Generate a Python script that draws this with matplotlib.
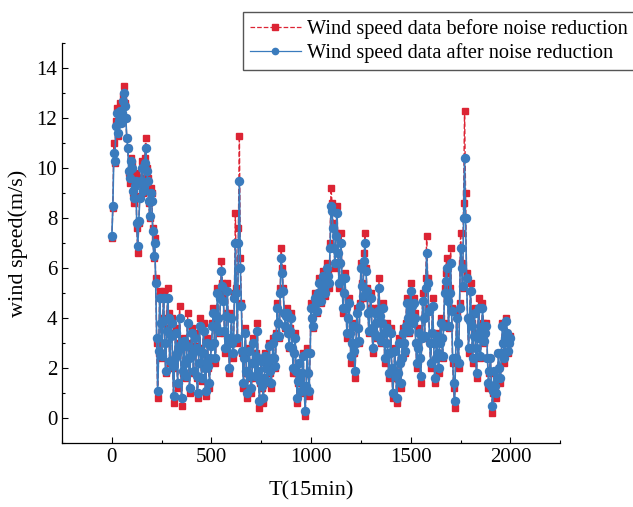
import numpy as np
import matplotlib.pyplot as plt
from matplotlib.ticker import MultipleLocator

plt.rcParams['font.family'] = ['Liberation Serif', 'DejaVu Serif']

# time index (15 min steps), sampled every 5
t = np.arange(0, 2001, 5)

# wind speed before noise reduction (m/s), one row per 100 steps
raw = [
    7.2, 8.4, 11.0, 10.2, 11.9, 12.4, 11.3, 12.0, 12.6, 11.8, 12.2, 12.9, 13.3, 12.6, 12.0, 11.2, 10.8, 9.8, 9.4, 10.4,
    10.2, 9.0, 8.6, 9.4, 9.8, 7.6, 6.6, 7.8, 8.9, 9.6, 10.3, 9.0, 9.2, 10.4, 11.2, 10.0, 9.6, 8.6, 8.0, 9.2,
    9.0, 7.6, 6.4, 7.2, 5.6, 3.0, 0.8, 2.6, 5.1, 3.8, 2.4, 4.0, 5.1, 3.0, 1.8, 3.6, 5.2, 4.2, 2.2, 3.4,
    4.0, 2.0, 0.6, 2.4, 3.6, 2.6, 1.2, 3.0, 4.5, 2.8, 0.5, 1.8, 3.2, 2.2, 1.6, 3.0, 4.2, 2.4, 1.0, 2.6,
    3.6, 2.6, 1.8, 3.4, 2.9, 1.6, 0.8, 2.2, 4.0, 2.8, 1.5, 2.6, 3.8, 2.0, 0.9, 2.4, 3.2, 2.0, 1.2, 2.4,
    3.0, 3.8, 4.4, 3.0, 2.2, 3.8, 5.2, 4.0, 3.4, 5.0, 6.3, 5.4, 4.8, 3.4, 2.6, 4.2, 5.4, 3.2, 1.8, 3.0,
    4.2, 3.0, 2.4, 5.0, 8.2, 5.2, 3.0, 7.6, 11.3, 6.4, 4.6, 2.6, 1.2, 2.4, 3.6, 1.8, 0.8, 1.8, 2.8, 1.6,
    1.0, 2.2, 3.2, 2.2, 1.6, 2.6, 3.8, 1.8, 0.4, 1.4, 2.4, 1.2, 0.6, 1.6, 2.6, 2.0, 1.4, 2.4, 3.0, 1.8,
    1.2, 2.4, 3.2, 2.4, 2.0, 3.4, 4.6, 3.8, 3.2, 5.2, 6.8, 6.0, 5.2, 4.2, 3.6, 4.2, 4.4, 3.4, 2.8, 3.6,
    4.2, 2.8, 1.8, 2.6, 3.4, 1.8, 0.6, 1.4, 2.2, 1.6, 1.0, 1.8, 2.6, 1.2, 0.1, 1.2, 2.8, 1.8, 0.9, 2.6,
    4.6, 4.0, 3.6, 4.4, 5.0, 4.6, 4.2, 5.0, 5.6, 5.0, 4.6, 5.4, 5.9, 5.2, 4.9, 5.6, 6.2, 5.8, 5.2, 7.0,
    9.2, 8.6, 7.8, 6.8, 6.0, 7.4, 8.5, 6.6, 5.2, 6.2, 7.4, 5.6, 4.2, 5.0, 5.8, 4.4, 3.2, 4.0, 4.8, 3.4,
    2.2, 3.0, 3.8, 2.6, 1.6, 3.0, 4.4, 3.6, 3.0, 4.6, 6.2, 5.4, 4.8, 6.6, 7.4, 6.0, 5.2, 4.2, 3.4, 4.4,
    5.0, 3.6, 2.6, 3.4, 4.4, 3.8, 3.2, 4.4, 5.6, 4.2, 3.0, 3.8, 4.6, 3.4, 2.2, 3.0, 3.8, 2.6, 1.6, 2.6,
    3.6, 2.0, 0.8, 1.8, 2.8, 1.6, 0.6, 1.8, 3.2, 2.2, 1.2, 2.4, 3.6, 3.0, 2.6, 3.8, 4.8, 4.0, 3.4, 4.4,
    5.4, 4.6, 3.8, 4.8, 4.2, 3.0, 2.0, 2.8, 3.6, 2.4, 1.4, 3.2, 5.0, 4.0, 3.2, 5.6, 7.3, 5.6, 4.4, 3.0,
    2.0, 3.4, 4.8, 3.0, 1.4, 2.4, 3.4, 2.6, 1.8, 3.0, 4.0, 3.2, 2.4, 3.8, 5.2, 5.8, 6.4, 4.8, 3.6, 5.2,
    6.8, 4.4, 2.2, 1.2, 0.4, 2.4, 4.2, 3.0, 2.0, 4.6, 7.4, 6.2, 5.2, 8.6, 12.3, 9.0, 5.8, 4.0, 2.6, 4.0,
    5.4, 3.8, 2.2, 3.4, 4.4, 2.8, 1.6, 3.2, 4.8, 3.6, 2.4, 3.4, 4.6, 3.8, 3.0, 3.4, 3.8, 2.4, 1.2, 1.8,
    2.4, 1.2, 0.2, 1.0, 1.8, 1.2, 0.8, 1.6, 2.6, 2.0, 1.4, 2.6, 3.8, 3.0, 2.2, 3.2, 4.0, 3.4, 2.6, 3.0,
    3.3,
]

# wind speed after noise reduction (m/s)
denoised = [
    7.3, 8.5, 10.6, 10.3, 11.7, 12.2, 11.4, 11.9, 12.3, 11.8, 12.2, 12.7, 13.0, 12.5, 12.0, 11.2, 10.8, 9.9, 9.6, 10.3,
    10.0, 9.1, 8.8, 9.3, 9.5, 7.8, 6.9, 7.9, 8.8, 9.5, 10.0, 9.1, 9.3, 10.2, 10.8, 9.9, 9.5, 8.7, 8.1, 9.0,
    8.7, 7.5, 6.5, 7.0, 5.4, 3.2, 1.1, 2.7, 4.8, 3.8, 2.5, 3.9, 4.8, 3.0, 1.9, 3.5, 4.8, 4.0, 2.3, 3.3,
    3.8, 2.1, 0.9, 2.4, 3.4, 2.6, 1.4, 2.9, 4.0, 2.8, 0.8, 1.9, 3.1, 2.2, 1.7, 2.9, 3.8, 2.4, 1.2, 2.5,
    3.4, 2.6, 1.9, 3.2, 2.8, 1.7, 1.0, 2.2, 3.7, 2.7, 1.6, 2.6, 3.5, 2.0, 1.1, 2.3, 3.0, 2.1, 1.4, 2.4,
    2.9, 3.7, 4.2, 3.0, 2.4, 3.7, 5.0, 4.0, 3.5, 4.8, 5.9, 5.3, 4.7, 3.5, 2.8, 4.1, 5.1, 3.2, 2.0, 3.0,
    4.0, 3.0, 2.6, 4.8, 7.0, 5.0, 3.2, 7.0, 9.5, 6.0, 4.5, 2.7, 1.4, 2.4, 3.4, 1.9, 1.0, 1.8, 2.7, 1.7,
    1.2, 2.2, 3.0, 2.2, 1.7, 2.5, 3.5, 1.9, 0.7, 1.5, 2.3, 1.3, 0.8, 1.6, 2.5, 2.0, 1.5, 2.3, 2.9, 1.9,
    1.4, 2.4, 3.0, 2.4, 2.1, 3.3, 4.4, 3.8, 3.3, 5.0, 6.4, 5.8, 5.1, 4.2, 3.7, 4.1, 4.2, 3.4, 2.9, 3.5,
    4.0, 2.8, 2.0, 2.6, 3.2, 1.9, 0.8, 1.5, 2.2, 1.6, 1.1, 1.8, 2.5, 1.3, 0.3, 1.3, 2.6, 1.8, 1.1, 2.6,
    4.4, 4.0, 3.7, 4.4, 4.8, 4.6, 4.3, 5.0, 5.4, 5.0, 4.7, 5.3, 5.7, 5.2, 5.0, 5.5, 6.0, 5.7, 5.4, 6.8,
    8.5, 8.3, 7.6, 6.8, 6.2, 7.3, 8.2, 6.6, 5.4, 6.2, 7.0, 5.6, 4.4, 5.0, 5.6, 4.4, 3.4, 4.0, 4.6, 3.4,
    2.5, 3.0, 3.7, 2.7, 1.9, 3.0, 4.2, 3.6, 3.1, 4.5, 6.0, 5.3, 4.9, 6.3, 7.0, 5.9, 5.1, 4.2, 3.5, 4.3,
    4.8, 3.6, 2.8, 3.4, 4.2, 3.8, 3.3, 4.3, 5.2, 4.1, 3.1, 3.8, 4.4, 3.4, 2.4, 3.0, 3.6, 2.6, 1.8, 2.6,
    3.4, 2.0, 1.0, 1.8, 2.7, 1.7, 0.8, 1.8, 3.0, 2.2, 1.4, 2.4, 3.4, 3.0, 2.7, 3.7, 4.6, 4.0, 3.5, 4.3,
    5.1, 4.5, 3.8, 4.6, 4.0, 3.0, 2.2, 2.8, 3.4, 2.4, 1.7, 3.2, 4.7, 4.0, 3.3, 5.2, 6.6, 5.4, 4.3, 3.0,
    2.2, 3.4, 4.5, 3.0, 1.6, 2.4, 3.3, 2.6, 2.0, 3.0, 3.8, 3.2, 2.5, 3.7, 5.0, 5.5, 6.0, 4.7, 3.7, 5.0,
    6.2, 4.3, 2.4, 1.4, 0.7, 2.4, 4.0, 3.0, 2.2, 4.4, 6.8, 6.0, 5.3, 8.0, 10.4, 8.0, 5.6, 4.0, 2.8, 3.9,
    5.1, 3.7, 2.4, 3.3, 4.2, 2.8, 1.8, 3.2, 4.4, 3.5, 2.5, 3.4, 4.4, 3.7, 3.1, 3.4, 3.7, 2.4, 1.4, 1.9,
    2.4, 1.3, 0.5, 1.1, 1.9, 1.3, 1.0, 1.6, 2.6, 2.0, 1.6, 2.6, 3.7, 3.0, 2.4, 3.2, 3.9, 3.4, 2.7, 3.0,
    3.2,
]

red = '#dc2434'
blue = '#3a7bbd'

fig = plt.figure(figsize=(6.33, 5.07), dpi=100)
ax = fig.add_axes([0.098, 0.126, 0.787, 0.789])

ax.plot(t, raw, color=red, ls='--', lw=1.0, marker='s', ms=4.6, mec=red, mfc=red,
        label='Wind speed data before noise reduction')
ax.plot(t, denoised, color=blue, ls='-', lw=1.2, marker='o', ms=5.8, mec=blue, mfc=blue,
        label='Wind speed data after noise reduction')

ax.set_xlim(-250, 2250)
ax.set_ylim(-1, 15)
ax.xaxis.set_major_locator(MultipleLocator(500))
ax.xaxis.set_minor_locator(MultipleLocator(250))
ax.yaxis.set_major_locator(MultipleLocator(2))
ax.yaxis.set_minor_locator(MultipleLocator(1))
ax.tick_params(which='both', direction='in', labelsize=15, width=0.8)
ax.tick_params(which='major', length=4.5)
ax.tick_params(which='minor', length=2.5)
ax.spines['top'].set_visible(False)
ax.spines['right'].set_visible(False)
for s in ['left', 'bottom']:
    ax.spines[s].set_linewidth(0.9)

ax.set_xlabel('T(15min)', fontsize=16, labelpad=10)
ax.set_ylabel('wind speed(m/s)', fontsize=16, labelpad=6)

leg = fig.legend(loc='upper left', bbox_to_anchor=(243 / 633, 1 - 12 / 507), fontsize=14.6,
                 frameon=True, fancybox=False, edgecolor='#555555', framealpha=1,
                 handlelength=2.5, handletextpad=0.3, borderpad=0.35, labelspacing=0.2,
                 borderaxespad=0)
for h in leg.legend_handles:
    h.set_markersize(4.5)
    h.set_linewidth(0.9)

fig.savefig('out.png', dpi=100)
